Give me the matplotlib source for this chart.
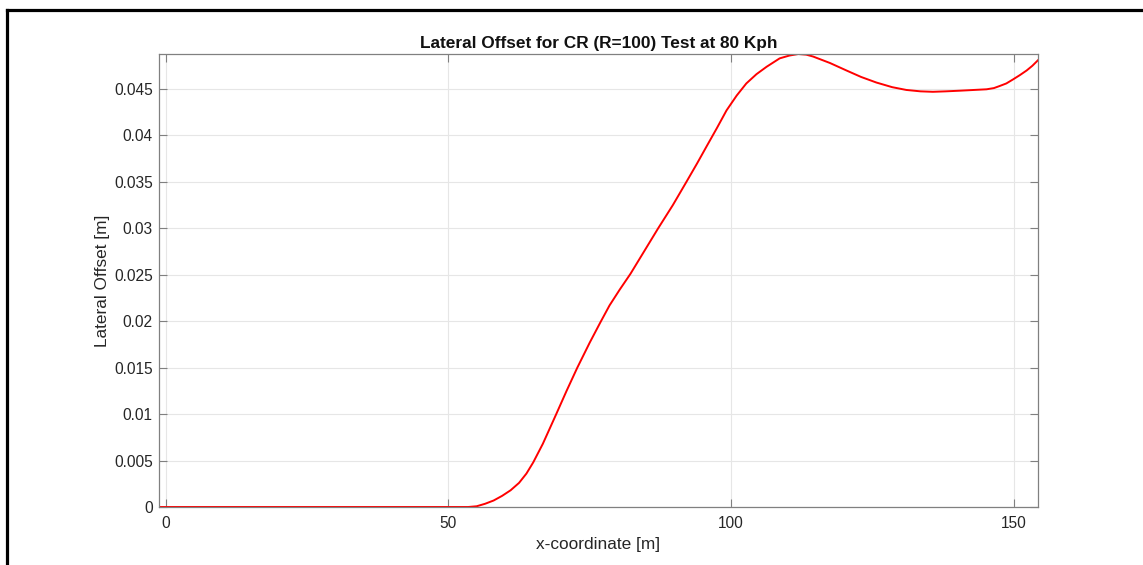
import matplotlib
matplotlib.use("Agg")
import matplotlib.pyplot as plt
from matplotlib.lines import Line2D

# Lateral offset along the x-coordinate for the constant-radius test
x_coord = [-1.2, 10, 20, 30, 40, 50, 53.5, 55, 56.5, 58, 59.5, 61, 62.5, 63.8,
           65.0, 66.7, 69.0, 70.9, 72.8, 75.0, 76.9, 78.5, 80.3, 82.2, 84.6,
           87.1, 89.7, 92.1, 94.0, 95.65, 97.5, 99.2, 101, 102.7, 104.5, 106.3,
           108.6, 110.3, 111.9, 113.3, 114.5, 117.5, 120.4, 123, 125.7, 128.5,
           131, 133.5, 135.7, 138, 140.5, 143, 145.2, 146.5, 147.5, 148.7,
           149.9, 151.1, 152.3, 153.3, 154.3]
lateral_offset = [0, 0, 0, 0, 0, 0, 0, 0.00008, 0.00035, 0.0007, 0.0012, 0.0018,
                  0.0026, 0.0036, 0.0048, 0.0068, 0.0099, 0.0125, 0.0150, 0.0177,
                  0.0199, 0.0217, 0.0234, 0.0251, 0.0275, 0.0300, 0.0325, 0.0350,
                  0.0370, 0.0388, 0.0408, 0.0427, 0.0443, 0.0456, 0.0466, 0.0474,
                  0.0483, 0.0486, 0.04877, 0.0487, 0.0485, 0.0478, 0.0470, 0.0463,
                  0.0457, 0.0452, 0.0449, 0.04475, 0.0447, 0.04475, 0.04482,
                  0.0449, 0.04497, 0.0451, 0.04532, 0.0456, 0.04604, 0.0465,
                  0.0470, 0.0475, 0.0481]

x_ticks = [0, 50, 100, 150]
x_tick_labels = ["0", "50", "100", "150"]
y_ticks = [0, 0.005, 0.01, 0.015, 0.02, 0.025, 0.03, 0.035, 0.04, 0.045]
y_tick_labels = ["0", "0.005", "0.01", "0.015", "0.02", "0.025", "0.03",
                 "0.035", "0.04", "0.045"]

plt.rcParams["font.family"] = ["Liberation Sans", "DejaVu Sans"]

W, H = 1143, 565
fig = plt.figure(figsize=(W / 100, H / 100), dpi=100)
fig.patch.set_facecolor("white")

ax = fig.add_axes([159 / W, 1 - 507 / H, (1038 - 159) / W, (507 - 54) / H])

ax.plot(x_coord, lateral_offset, color="#ff0000", linewidth=1.4,
        solid_joinstyle="round")

ax.set_xlim(min(x_coord), max(x_coord))
ax.set_ylim(0, max(lateral_offset))

ax.set_xticks(x_ticks)
ax.set_xticklabels(x_tick_labels)
ax.set_yticks(y_ticks)
ax.set_yticklabels(y_tick_labels)

text_color = "#262626"
ax.tick_params(axis="both", direction="in", length=6, width=0.8,
               colors="#808080", labelcolor=text_color, labelsize=11.2,
               top=True, right=True, pad=4.5)
ax.tick_params(axis="x", pad=6.5)
for spine in ax.spines.values():
    spine.set_color("#808080")
    spine.set_linewidth(0.9)

ax.grid(True, color="#e6e6e6", linewidth=0.8)
ax.set_axisbelow(True)

ax.set_title("Lateral Offset for CR (R=100) Test at 80 Kph",
             fontsize=12.4, fontweight="bold", color="#111111", pad=4)
ax.set_xlabel("x-coordinate [m]", fontsize=12.4, color=text_color)
ax.set_ylabel("Lateral Offset [m]", fontsize=12.4, color=text_color)
ax.xaxis.set_label_coords(0.5, (507 - 545) / 453, transform=ax.transAxes)
ax.yaxis.set_label_coords((103 - 159) / 879, 0.5, transform=ax.transAxes)
ax.xaxis.label.set_verticalalignment("center")
ax.yaxis.label.set_verticalalignment("center")

# Figure frame (left and top edges)
fig.add_artist(Line2D([7 / W, 7 / W], [0, 1 - 9.5 / H], transform=fig.transFigure,
                      color="black", linewidth=2.3, solid_capstyle="projecting"))
fig.add_artist(Line2D([7 / W, 1], [1 - 9.5 / H, 1 - 9.5 / H], transform=fig.transFigure,
                      color="black", linewidth=2.3, solid_capstyle="projecting"))

fig.savefig("out.png", dpi=100, facecolor="white")
